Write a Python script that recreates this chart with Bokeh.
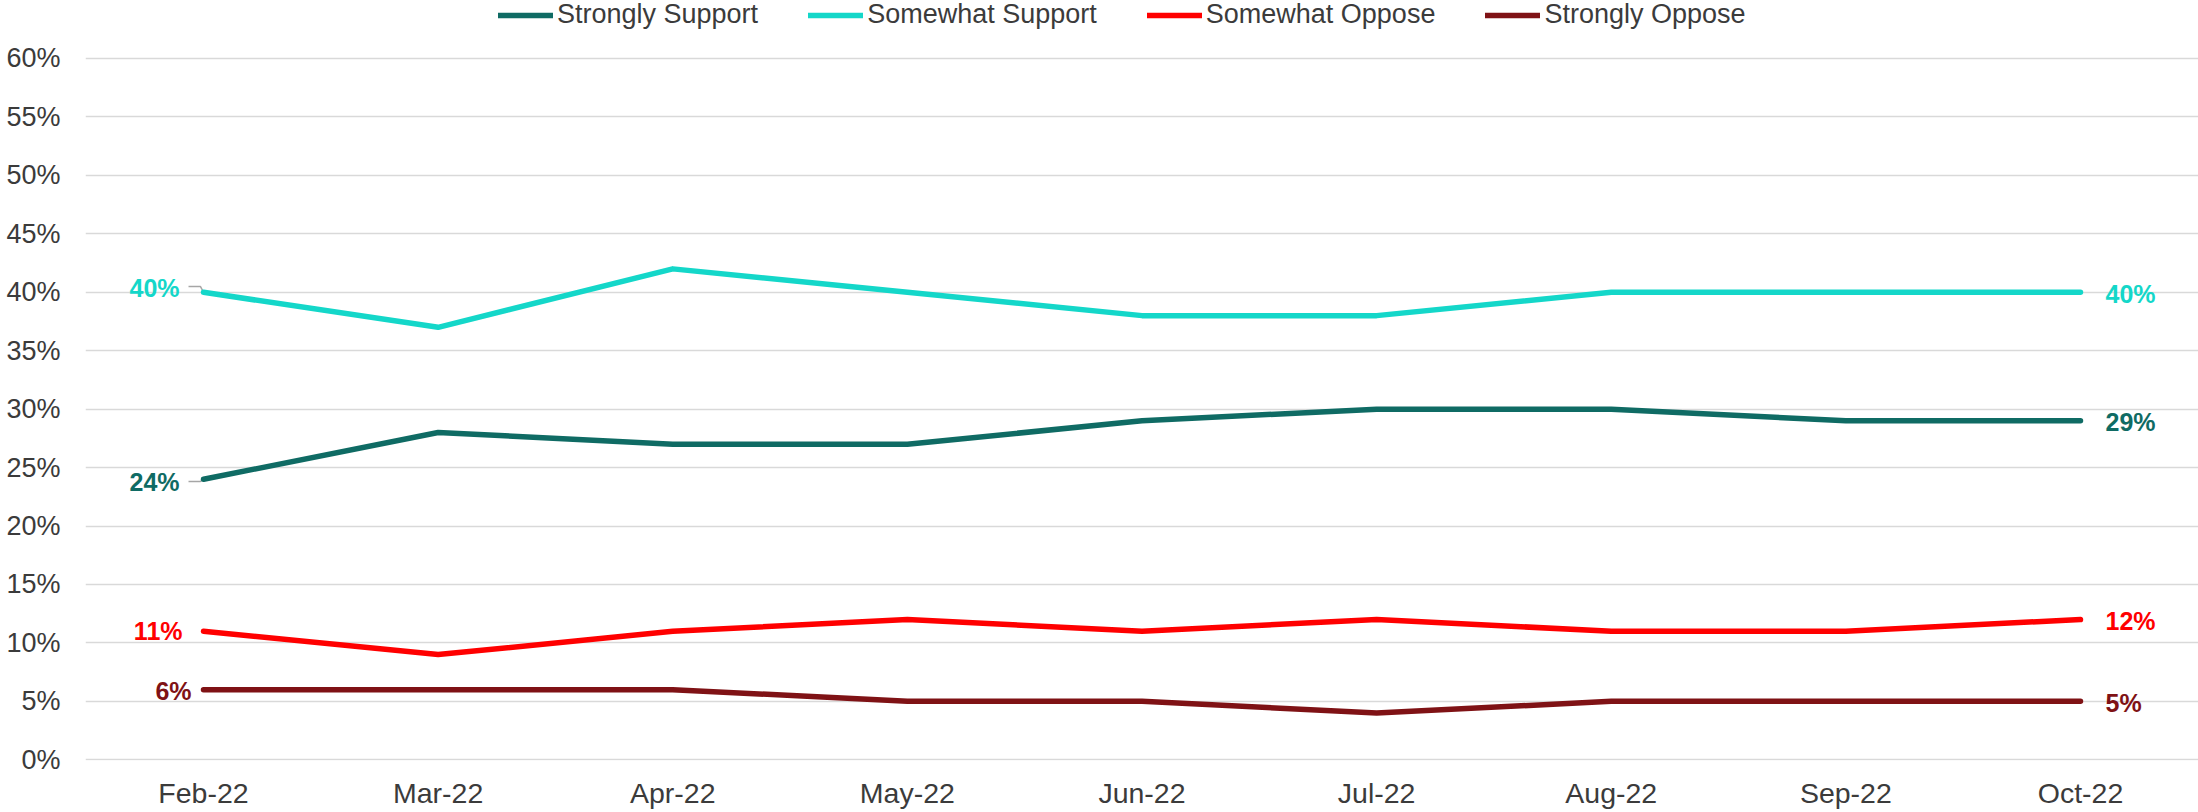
from bokeh.plotting import figure
from bokeh.models import Range1d, FixedTicker, Legend, LegendItem
from bokeh.embed import file_html
from bokeh.resources import INLINE
from bokeh.core.properties import value

# ---- data ----
months = ["Feb-22", "Mar-22", "Apr-22", "May-22", "Jun-22", "Jul-22", "Aug-22", "Sep-22", "Oct-22"]
strongly_support = [24, 28, 27, 27, 29, 30, 30, 29, 29]
somewhat_support = [40, 37, 42, 40, 38, 38, 40, 40, 40]
somewhat_oppose = [11, 9, 11, 12, 11, 12, 11, 11, 12]
strongly_oppose = [6, 6, 6, 5, 5, 4, 5, 5, 5]
series_names = ["Strongly Support", "Somewhat Support", "Somewhat Oppose", "Strongly Oppose"]
y_ticks = [0, 5, 10, 15, 20, 25, 30, 35, 40, 45, 50, 55, 60]

# ---- styles ----
colors = ["#0f6b64", "#14d7c9", "#ff0000", "#7f1215"]
left_x_off = [-24, -24, -21, -12]
left_y_off = [3, -4, 0, 1.5]
leader_dy_px = [-2.2, 5.7, None, None]   # small grey leader lines (Excel style) for some labels
FONT = "Liberation Sans"
TXT = "#3b3b3b"

FRAME_W, FRAME_H = 2113, 760
X0, X1 = -0.503, 8.503
Y0, Y1 = -0.06, 64.96
px_x = FRAME_W / (X1 - X0)
px_y = FRAME_H / (Y1 - Y0)

xs = list(range(len(months)))

p = figure(frame_width=FRAME_W, frame_height=FRAME_H,
           min_border_left=85, min_border_right=0, min_border_top=0, min_border_bottom=50,
           x_range=Range1d(X0, X1), y_range=Range1d(Y0, Y1),
           output_backend="svg", toolbar_location=None)
p.outline_line_color = None
p.background_fill_color = "white"
p.border_fill_color = "white"

p.xgrid.grid_line_color = None
p.ygrid.grid_line_color = "#d9d9d9"
p.ygrid.grid_line_width = 1.5
p.ygrid.ticker = FixedTicker(ticks=y_ticks)

p.yaxis.ticker = FixedTicker(ticks=y_ticks)
p.yaxis.major_label_overrides = {t: f"{t}%" for t in y_ticks}
p.xaxis.ticker = FixedTicker(ticks=xs)
p.xaxis.major_label_overrides = {i: m for i, m in enumerate(months)}
for ax in (p.xaxis[0], p.yaxis[0]):
    ax.axis_line_color = None
    ax.major_tick_line_color = None
    ax.minor_tick_line_color = None
    ax.major_tick_out = 0
    ax.major_label_text_font = FONT
    ax.major_label_text_color = TXT
p.yaxis.major_label_text_font_size = "27px"
p.xaxis.major_label_text_font_size = "28.5px"
p.yaxis.major_label_standoff = 25
p.xaxis.major_label_standoff = 16

all_series = [strongly_support, somewhat_support, somewhat_oppose, strongly_oppose]
items = []
for name, vals, c, lxo, lyo, ldy in zip(series_names, all_series, colors, left_x_off, left_y_off, leader_dy_px):
    if ldy is not None:
        lx = [xs[0] - 15 / px_x, xs[0] - 3 / px_x, xs[0]]
        ly = [vals[0] + ldy / px_y, vals[0] + ldy / px_y, vals[0]]
        p.line(lx, ly, line_width=1.5, line_color="#a6a6a6")
    r = p.line(xs, vals, line_width=5.5, line_color=c, line_cap="round", line_join="round")
    items.append(LegendItem(label=name, renderers=[r]))
    p.text(x=[xs[0]], y=[vals[0]], text=[f"{vals[0]}%"], text_align="right", text_baseline="middle",
           x_offset=lxo, y_offset=lyo, text_color=c, text_font=value(FONT),
           text_font_style="bold", text_font_size="25px")
    p.text(x=[xs[-1]], y=[vals[-1]], text=[f"{vals[-1]}%"], text_align="left", text_baseline="middle",
           x_offset=25, y_offset=1.5, text_color=c, text_font=value(FONT),
           text_font_style="bold", text_font_size="25px")

legend = Legend(items=items, orientation="horizontal", location=(413, 730),
                glyph_width=55, glyph_height=20, label_standoff=4, spacing=50,
                padding=0, margin=0, border_line_color=None, background_fill_alpha=0,
                label_text_font=FONT, label_text_font_size="27px", label_text_color=TXT)
p.add_layout(legend)

open("out.html", "w").write(file_html(p, INLINE))
